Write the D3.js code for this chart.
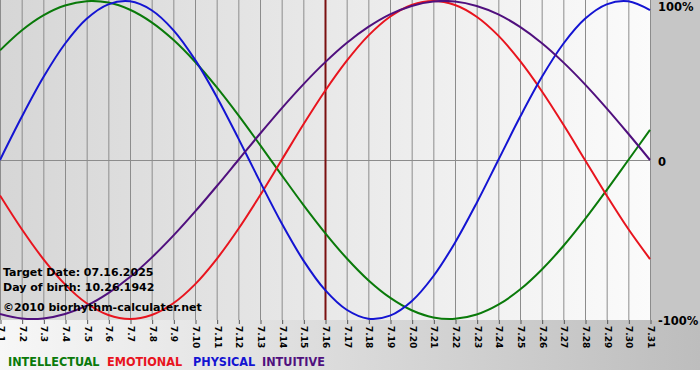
<!DOCTYPE html>
<html>
<head>
<meta charset="utf-8">
<script src="https://cdn.jsdelivr.net/npm/d3@7"></script>
<style>
  body { margin: 0; background: #fff; }
  svg { display: block; font-family: "DejaVu Sans", Verdana, sans-serif; font-weight: bold; }
</style>
</head>
<body>
<svg width="700" height="380"></svg>
<script>
// days of July 2025
const days = d3.range(1, 32);
const dayLabels = days.map(d => "7." + d);
const targetDay = 16;

// values (-1 .. 1)
const intellectual = [0.69, 0.815, 0.91, 0.972, 0.999, 0.99, 0.945, 0.866, 0.756, 0.618, 0.458, 0.282, 0.095, -0.095, -0.282, -0.458,
    -0.618, -0.756, -0.866, -0.945, -0.99, -0.999, -0.972, -0.91, -0.815, -0.69, -0.541, -0.372, -0.189, 0, 0.189];
const emotional = [-0.223, -0.434, -0.623, -0.782, -0.901, -0.975, -1, -0.975, -0.901, -0.782, -0.623, -0.434, -0.223, 0, 0.223, 0.434,
    0.623, 0.782, 0.901, 0.975, 1, 0.975, 0.901, 0.782, 0.623, 0.434, 0.223, 0, -0.223, -0.434, -0.623];
const physical = [0, 0.27, 0.52, 0.731, 0.888, 0.979, 0.998, 0.942, 0.817, 0.631, 0.398, 0.136, -0.136, -0.398, -0.631, -0.817,
    -0.942, -0.998, -0.979, -0.888, -0.731, -0.52, -0.27, 0, 0.27, 0.52, 0.731, 0.888, 0.979, 0.998, 0.942];
const intuitive = [-0.969, -0.997, -0.997, -0.969, -0.916, -0.837, -0.736, -0.614, -0.476, -0.325, -0.165, 0, 0.165, 0.325, 0.476, 0.614,
    0.736, 0.837, 0.916, 0.969, 0.997, 0.997, 0.969, 0.916, 0.837, 0.736, 0.614, 0.476, 0.325, 0.165, 0];

const seriesNames = ["INTELLECTUAL", "EMOTIONAL", "PHYSICAL", "INTUITIVE"];
const seriesColors = ["#0a7a0a", "#e8141e", "#1414d2", "#50107e"];
const seriesValues = [intellectual, emotional, physical, intuitive];
const yTickValues = [1, 0, -1];
const yTickLabels = ["100%", "0", "-100%"];
const infoLines = ["Target Date: 07.16.2025", "Day of birth: 10.26.1942", "\u00a92010 biorhythm-calculater.net"];

const svg = d3.select("svg");
const area = { left: 0, right: 650, top: 1, bottom: 320, panelRight: 651 };

const defs = svg.append("defs");
const g1 = defs.append("linearGradient").attr("id", "plotBg");
g1.append("stop").attr("offset", "0%").attr("stop-color", "#d6d6d6");
g1.append("stop").attr("offset", "100%").attr("stop-color", "#fbfbfb");
const g2 = defs.append("linearGradient").attr("id", "bottomBg");
g2.append("stop").attr("offset", "0%").attr("stop-color", "#f7f7f7");
g2.append("stop").attr("offset", "100%").attr("stop-color", "#bdbdbd");

// backgrounds
svg.append("rect").attr("x", 0).attr("y", 0).attr("width", 700).attr("height", 370).attr("fill", "url(#bottomBg)");
svg.append("rect").attr("x", area.panelRight).attr("y", 0).attr("width", 700 - area.panelRight).attr("height", 321).attr("fill", "#c6c6c6");
svg.append("rect").attr("x", 0).attr("y", 0).attr("width", area.panelRight).attr("height", area.bottom).attr("fill", "url(#plotBg)");

const scX = d3.scaleLinear().domain([1, 31]).range([area.left, area.right]);
const scY = d3.scaleLinear().domain([-1, 1]).range([area.bottom - 1, area.top]);

// vertical grid
svg.append("g").selectAll("line").data(days).enter().append("line")
    .attr("x1", d => scX(d) + 0.5).attr("x2", d => scX(d) + 0.5)
    .attr("y1", 0).attr("y2", area.bottom)
    .attr("stroke", "#8c8c8c").attr("stroke-width", 1);

// zero line
svg.append("line")
    .attr("x1", 0).attr("x2", area.panelRight)
    .attr("y1", scY(0) + 0.5).attr("y2", scY(0) + 0.5)
    .attr("stroke", "#8c8c8c");

// x axis
const axisX = d3.axisBottom(scX).tickValues(days).tickFormat((d, i) => dayLabels[i]).tickSize(4).tickSizeOuter(0);
const gx = svg.append("g").attr("transform", `translate(0.5, ${area.bottom})`).call(axisX);
gx.select(".domain").remove();
gx.selectAll(".tick line").attr("stroke", "#555");
gx.selectAll("text")
    .attr("font-family", "DejaVu Sans, Verdana, sans-serif")
    .attr("font-weight", "bold")
    .attr("font-size", 9)
    .attr("fill", "#000")
    .style("text-anchor", "start")
    .attr("x", 0).attr("y", 0).attr("dy", 0)
    .attr("transform", "translate(-3,6) rotate(90)");

// target date line
svg.append("line")
    .attr("x1", scX(targetDay) + 0.5).attr("x2", scX(targetDay) + 0.5)
    .attr("y1", 0).attr("y2", area.bottom)
    .attr("stroke", "#7a1010").attr("stroke-width", 2);

// curves
const line = d3.line().x((d, i) => scX(days[i])).y(d => scY(d)).curve(d3.curveCatmullRom);
svg.append("g").selectAll("path").data(seriesValues).enter().append("path")
    .attr("d", d => line(d))
    .attr("fill", "none")
    .attr("stroke", (d, i) => seriesColors[i])
    .attr("stroke-width", 2);

// right labels
svg.append("g").selectAll("text").data(yTickLabels).enter().append("text")
    .attr("x", 658)
    .attr("y", (d, i) => Math.min(Math.max(scY(yTickValues[i]) + 6, 11), 326))
    .attr("font-size", 11.5)
    .attr("fill", "#000")
    .text(d => d);

// info text
svg.append("g").selectAll("text").data(infoLines).enter().append("text")
    .attr("x", 3)
    .attr("y", (d, i) => [276, 291, 311][i])
    .attr("font-size", 11)
    .attr("fill", "#000")
    .text(d => d);

// legend
const legendX = [8, 107, 193, 262];
svg.append("g").selectAll("text").data(seriesNames).enter().append("text")
    .attr("x", (d, i) => legendX[i])
    .attr("y", 366)
    .attr("font-family", "DejaVu Sans Condensed, DejaVu Sans, sans-serif")
    .style("font-stretch", "condensed")
    .attr("font-size", 12.5)
    .attr("fill", (d, i) => seriesColors[i])
    .text(d => d);
</script>
</body>
</html>
